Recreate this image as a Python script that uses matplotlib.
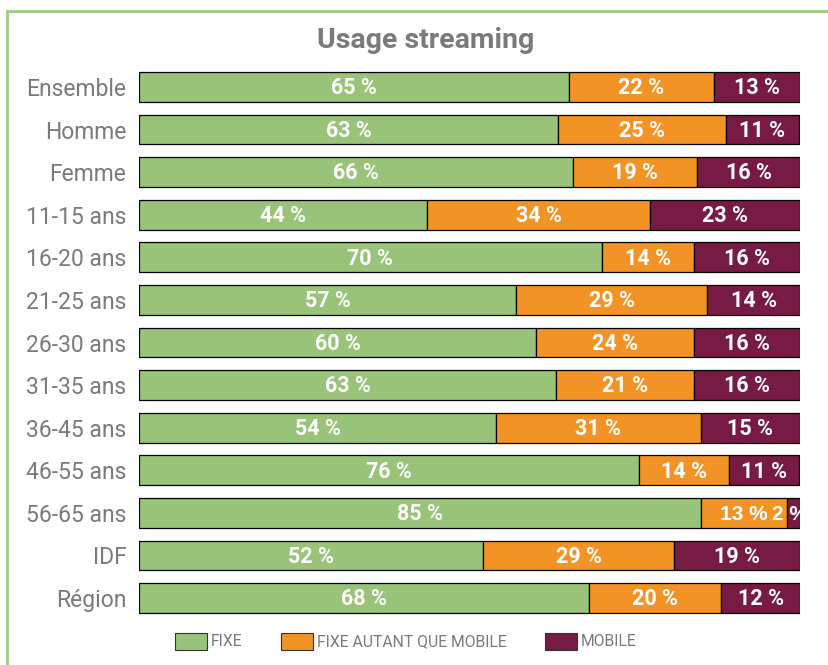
import matplotlib
matplotlib.use("Agg")
import matplotlib.pyplot as plt
from matplotlib.lines import Line2D
from matplotlib.patches import Rectangle
import numpy as np

categories = ["Ensemble", "Homme", "Femme", "11-15 ans", "16-20 ans", "21-25 ans",
              "26-30 ans", "31-35 ans", "36-45 ans", "46-55 ans", "56-65 ans", "IDF", "Région"]
fixe = [65.0, 63.4, 65.6, 43.6, 70.0, 57.0, 60.1, 63.1, 54.0, 75.6, 85.0, 52.0, 68.1]
fixe_mobile = [22.0, 25.4, 18.8, 33.7, 13.9, 29.0, 23.9, 20.9, 31.0, 13.7, 13.0, 29.0, 20.0]
mobile = [13.0, 11.0, 15.6, 22.7, 16.1, 14.0, 16.0, 16.0, 15.0, 10.6, 2.0, 19.0, 11.9]
series_names = ["FIXE", "FIXE AUTANT QUE MOBILE", "MOBILE"]
title = "Usage streaming"

colors = ["#98C379", "#F39325", "#771A44"]
gray = "#7A7A7A"
narrow = ["Roboto", "DejaVu Sans"]

W, H = 829, 665
fig = plt.figure(figsize=(W / 100, H / 100), dpi=100)

# axes placement in pixels
left, right = 139, 800
top_c, bot_c = 87, 598
n = len(categories)
step = (bot_c - top_c) / (n - 1)
ax_top = top_c - step / 2
ax_bot = bot_c + step / 2
ax = fig.add_axes([left / W, 1 - ax_bot / H, (right - left) / W, (ax_bot - ax_top) / H])

y = np.arange(n)
data = [fixe, fixe_mobile, mobile]
lefts = np.zeros(n)
for k, vals in enumerate(data):
    vals = np.array(vals)
    ax.barh(y, vals, left=lefts, height=0.70, color=colors[k], edgecolor="black",
            linewidth=0.9, label=series_names[k])
    for i, v in enumerate(vals):
        cx = lefts[i] + v / 2
        fam = narrow
        size = 15.5
        if categories[i] == "56-65 ans" and k > 0:
            fam = ["Liberation Sans", "DejaVu Sans"]
            size = 15
        if categories[i] == "56-65 ans" and k == 2:
            cx -= 0.5
        ax.text(cx, i + 0.03, f"{round(v)} %", ha="center", va="center", color="white",
                fontsize=size, fontweight="bold", family=fam, clip_on=True)
    lefts += vals

ax.set_xlim(0, 100)
ax.set_ylim(n - 0.5, -0.5)
ax.set_yticks(y)
ax.set_yticklabels(categories, family=narrow, fontsize=16.5, color=gray)
ax.tick_params(axis="y", length=0, pad=9)
ax.set_xticks([])
for s in ax.spines.values():
    s.set_visible(False)

fig.text(426 / W, 1 - 40 / H, title, ha="center", va="center", fontsize=20.5,
         fontweight="bold", color=gray, family=narrow)

# legend drawn manually in figure pixels
leg_y = 641.5
items = [(175, 211), (281, 317), (545, 581)]
for k, (px, tx) in enumerate(items):
    fig.add_artist(Rectangle((px / W, 1 - (leg_y + 8.5) / H), 32 / W, 17 / H,
                             transform=fig.transFigure, facecolor=colors[k],
                             edgecolor="#333333", linewidth=0.8))
    fig.text(tx / W, 1 - leg_y / H, series_names[k], ha="left", va="center",
             fontsize=11.3, color=gray, family=narrow)

# green frame
fc = "#9DCB80"
fig.add_artist(Line2D([7 / W, 1], [1 - 11 / H, 1 - 11 / H], transform=fig.transFigure,
                      color=fc, linewidth=2))
fig.add_artist(Line2D([7 / W, 7 / W], [0, 1 - 11 / H], transform=fig.transFigure,
                      color=fc, linewidth=2))

fig.savefig("out.png", dpi=100)
